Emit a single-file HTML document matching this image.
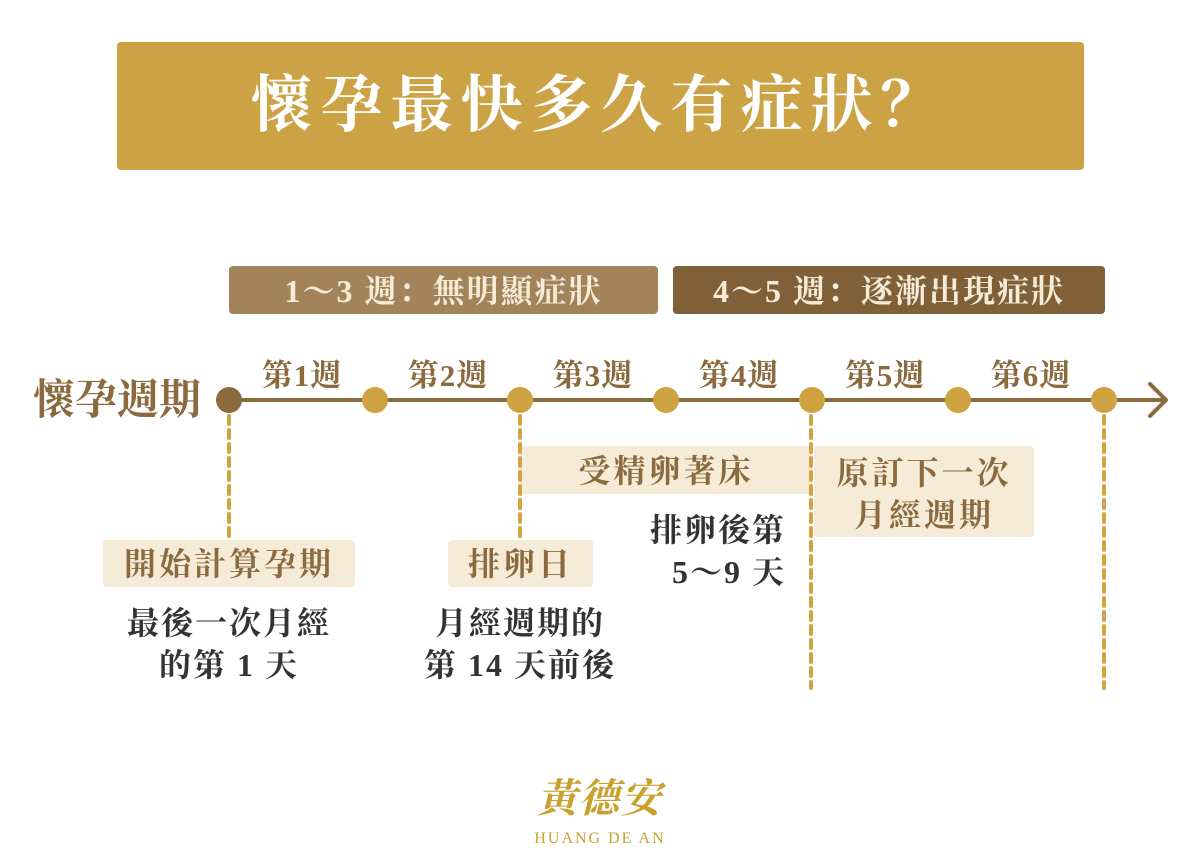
<!DOCTYPE html>
<html><head><meta charset="utf-8"><style>
body{margin:0;width:1200px;height:861px;background:#fff;position:relative;overflow:hidden;font-family:"Liberation Serif","Noto Serif CJK SC","Noto Serif CJK TC",serif;font-weight:bold}
.a{position:absolute}
.c{text-align:center}
.box{position:absolute;border-radius:4px}
.lab{color:#8B6A3E;font-size:32px;line-height:34px;letter-spacing:3px}
.blk{color:#333;font-size:32px;line-height:42px;letter-spacing:2px}
.wk{position:absolute;top:350px;width:146px;text-align:center;color:#8B6A3E;font-size:31px;letter-spacing:1px}
</style></head><body>
<div class="box" style="left:117px;top:42px;width:967px;height:128px;background:#CBA244"></div>
<div class="a c" style="left:117px;top:66px;width:967px;color:#fff;font-size:62px;line-height:80px;letter-spacing:8px">懷孕最快多久有症狀？</div>

<div class="box c" style="left:229px;top:266px;width:429px;height:48px;background:#A3845A;color:#F5EBD7;font-size:32px;line-height:50px;letter-spacing:2px">1～3 週：無明顯症狀</div>
<div class="box c" style="left:673px;top:266px;width:432px;height:48px;background:#7F6038;color:#F5EBD7;font-size:32px;line-height:50px;letter-spacing:2px">4～5 週：逐漸出現症狀</div>

<div class="a" style="left:33px;top:376px;color:#8B6A3E;font-size:42px;line-height:50px">懷孕週期</div>

<div class="wk" style="left:229px">第1週</div>
<div class="wk" style="left:375px">第2週</div>
<div class="wk" style="left:520px">第3週</div>
<div class="wk" style="left:666px">第4週</div>
<div class="wk" style="left:812px">第5週</div>
<div class="wk" style="left:958px">第6週</div>

<div class="box" style="left:103px;top:540px;width:252px;height:47px;background:#F5EBD7"></div>
<div class="box" style="left:448px;top:540px;width:145px;height:47px;background:#F5EBD7"></div>
<div class="box" style="left:520px;top:446px;width:292px;height:48px;background:#F5EBD7"></div>
<div class="box" style="left:814px;top:446px;width:220px;height:91px;background:#F5EBD7"></div>

<svg class="a" style="left:0;top:0" width="1200" height="861">
<g stroke="#D4A444" stroke-width="4" stroke-dasharray="8,6" stroke-linecap="round" fill="none">
<line x1="229" y1="416" x2="229" y2="540"/>
<line x1="520" y1="416" x2="520" y2="540"/>
<line x1="811" y1="416" x2="811" y2="688"/>
<line x1="1104" y1="416" x2="1104" y2="688"/>
</g>
<line x1="229" y1="400" x2="1163" y2="400" stroke="#8B6A3E" stroke-width="4"/>
<polyline points="1150,384 1166,400 1150,416" fill="none" stroke="#8B6A3E" stroke-width="4" stroke-linecap="round" stroke-linejoin="round"/>
<circle cx="229" cy="400" r="13" fill="#8B6A3E"/>
<g fill="#CFA240"><circle cx="375" cy="400" r="13"/><circle cx="520" cy="400" r="13"/><circle cx="666" cy="400" r="13"/><circle cx="812" cy="400" r="13"/><circle cx="958" cy="400" r="13"/><circle cx="1104" cy="400" r="13"/></g>
</svg>

<div class="a c lab" style="left:103px;top:547px;width:252px">開始計算孕期</div>
<div class="a c lab" style="left:448px;top:547px;width:145px">排卵日</div>
<div class="a c lab" style="left:520px;top:454px;width:292px">受精卵著床</div>
<div class="a c lab" style="left:814px;top:452px;width:220px;line-height:42px">原訂下一次<br>月經週期</div>

<div class="a c blk" style="left:95px;top:602px;width:268px">最後一次月經<br>的第 1 天</div>
<div class="a c blk" style="left:390px;top:602px;width:260px">月經週期的<br>第 14 天前後</div>
<div class="a blk" style="left:580px;top:509px;width:206px;text-align:right">排卵後第<br>5～9 天</div>

<div class="a c" style="left:500px;top:776px;width:200px;color:#C9A12E;font-size:40px;line-height:46px;font-style:italic;letter-spacing:2px">黃德安</div>
<div class="a c" style="left:500px;top:830px;width:200px;color:#C9A12E;font-size:16px;font-family:'Liberation Serif',serif;font-weight:normal;letter-spacing:2px">HUANG DE AN</div>
</body></html>
